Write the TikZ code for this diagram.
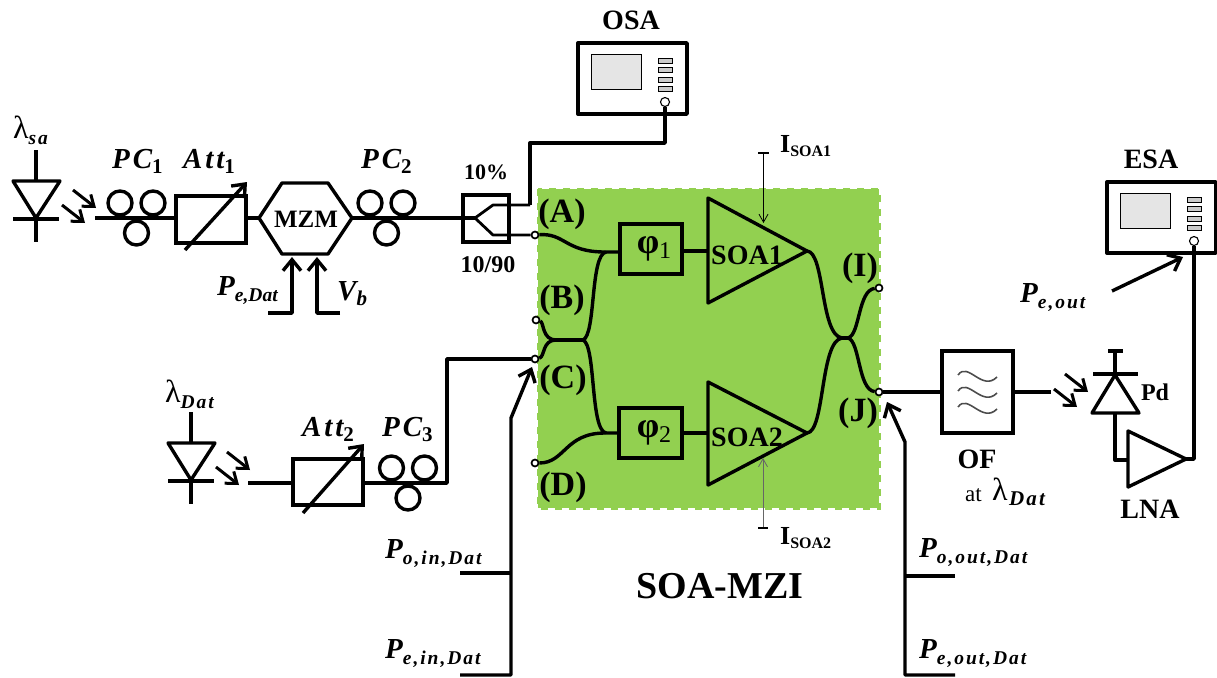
\documentclass[tikz,border=0pt]{standalone}
\usepackage{fontspec}
\setmainfont{Liberation Serif}
\newfontfamily\labfont[LetterSpace=10]{Liberation Serif}
\usetikzlibrary{arrows.meta}

\definecolor{soagreen}{HTML}{92D050}

\newcommand{\fsz}[1]{\fontsize{#1}{#1}\selectfont}
\newcommand{\psub}[1]{\raisebox{-6pt}{\fsz{19.5}#1}}
\newcommand{\nsub}[1]{\raisebox{-5pt}{\fsz{21}\upshape #1}}

\tikzset{
    fib/.style={line width=3.4pt,line join=round},
    thinfib/.style={line width=2.8pt,line join=round},
    device/.style={draw,line width=3.4pt,inner sep=0pt},
    power/.style={line width=3.4pt,line join=round,-{Straight Barb[length=11pt,width=18pt,line width=3.4pt]}},
    ray/.style={line width=3pt,-{Straight Barb[length=10pt,width=15pt]}},
    bias/.style={line width=0.8pt,-{Straight Barb[length=8pt,width=9pt]}},
    port/.style={circle,draw,fill=white,line width=1.7pt,inner sep=0pt,minimum size=7pt},
    lab/.style={anchor=base west,inner sep=0pt,font=\labfont\bfseries\itshape\fsz{29}},
    title/.style={inner sep=0pt,font=\bfseries\fsz{28}},
    pc/.pic={
        \draw[fib] (-16.5,-15) circle (12);
        \draw[fib] (16.5,-15) circle (12);
        \draw[fib] (0,15) circle (12);
    },
    laser/.pic={
        \draw[fib] (0,-68) -- (0,-37);
        \draw[fib] (-23,-37) -- (24,-37) -- (0,0) -- cycle;
        \draw[fib] (-23,1) -- (23,1);
        \draw[fib] (0,1) -- (0,24);
    },
    rays/.pic={
        \draw[ray] (0,0) -- (23,18);
        \draw[ray] (-11,15) -- (12,33);
    },
    analyzer/.pic={
        \draw[line width=3.4pt,line join=round] (0,0) rectangle (109,71);
        \draw[fill=black!10,line width=0.9pt] (13,11) rectangle (63,46);
        \foreach \by in {15,24,34,43} {
            \draw[fill=black!20,line width=0.9pt] (80,\by) rectangle (94,\by+5);
        }
        \node[circle,draw,fill=white,line width=1.1pt,inner sep=0pt,minimum size=9pt] (-port) at (87,59) {};
    },
}

\begin{document}
\begin{tikzpicture}[x=1pt,y=-1pt]
    \useasboundingbox (0,0) rectangle (1217,677);

    % SOA-MZI area
    \draw[fill=soagreen,draw=soagreen,line width=3pt,dash pattern=on 7pt off 7pt] (538,189) rectangle (879,508);

    % Sources
    \pic at (36,218) {laser};
    \pic at (73,190) {rays};
    \pic at (191,480) {laser};
    \pic at (227,452) {rays};

    % First branch
    \coordinate (fibsa) at (95,218);
    \node[device,minimum width=70pt,minimum height=47pt] (att1) at (211,219.5) {};
    \node[device,minimum width=46pt,minimum height=47pt] (split) at (486,218.5) {};
    \coordinate (mzml) at (259,218);
    \coordinate (mzmr) at (352,218);
    \draw[fib] (mzml) -- (282,183) -- (328,183) -- (mzmr) -- (328,254) -- (282,254) -- cycle;
    \node[title,font=\bfseries\fsz{25}] (mzm) at (306,219) {MZM};
    \draw[fib] (fibsa) -- (att1.west |- fibsa);
    \draw[fib] (att1.east |- mzml) -- (mzml);
    \coordinate (splitin) at (475,218);
    \draw[fib] (mzmr) -- (splitin);
    \pic at (136.5,218) {pc};
    \pic at (386.5,218) {pc};
    \draw[power] (185,250) -- (247,182);

    % Bias of the modulator
    \coordinate (pedat) at (268,313);
    \coordinate (vb) at (340,313);
    \draw[power] (pedat) -- (292,313) -- (292,257);
    \draw[power] (vb) -- (317,313) -- (317,257);
    \node[lab] (lpedat) at (217,295) {P\raisebox{-6pt}{\normalfont\fsz{19.5}\bfseries\itshape e,Dat}};
    \node[lab] (lvb) at (337,300) {V\nsub{\itshape b}};

    % Coupler 10/90
    \coordinate (sup) at (493,205);
    \coordinate (sdn) at (493,235);
    \node[port] (pa) at (535,235) {};
    \draw[thinfib] (splitin) -- (sup) -- (530,205);
    \draw[thinfib] (splitin) -- (sdn) -- (pa);

    % OSA
    \pic (osa) at (578,43) {analyzer};
    \node[title] (losa) at (631,20) {OSA};
    \draw[fib] (530,205) -- (530,143) -- (osa-port |- 0,143) -- (osa-port);

    % Second branch
    \coordinate (fibdat) at (248,483);
    \node[device,minimum width=70pt,minimum height=46pt] (att2) at (328,482) {};
    \node[port] (pc) at (535,359) {};
    \draw[fib] (fibdat) -- (att2.west |- fibdat);
    \draw[fib] (att2.east |- fibdat) -- (447,483) -- (447,359) -- (pc);
    \pic at (408,483) {pc};
    \draw[power] (303,513) -- (364,444);

    % Interferometer
    \node[port] (pb) at (536,320) {};
    \node[port] (pd) at (535,463) {};
    \node[port] (pi) at (879,288) {};
    \node[port] (pj) at (879,392) {};
    \node[device,minimum width=62pt,minimum height=50pt] (phi1) at (651,249) {};
    \node[device,minimum width=63pt,minimum height=50pt] (phi2) at (650.5,433) {};
    \node[inner sep=0pt,font=\bfseries\fsz{36}] (lphi1) at (654,249) {φ\raisebox{-5pt}{\fsz{24}\normalfont 1}};
    \node[inner sep=0pt,font=\bfseries\fsz{36}] (lphi2) at (654,433) {φ\raisebox{-5pt}{\fsz{24}\normalfont 2}};
    \coordinate (soa1in) at (708,251);
    \coordinate (soa1out) at (807,251);
    \coordinate (soa2in) at (708,433);
    \coordinate (soa2out) at (807,433);
    \draw[fib] (708,198) -- (soa1out) -- (708,303) -- cycle;
    \draw[fib] (708,382) -- (soa2out) -- (708,485) -- cycle;
    \draw[fib] (phi1.east |- soa1in) -- (soa1in);
    \draw[fib] (phi2.east |- soa2in) -- (soa2in);
    \node[title] (lsoa1) at (747,255) {SOA1};
    \node[title] (lsoa2) at (747,437) {SOA2};

    % Couplers
    \coordinate (cl1) at (556,340);
    \coordinate (cl2) at (583,340);
    \coordinate (cr1) at (842,338);
    \coordinate (cr2) at (848,338);
    \draw[fib] (pa) .. controls (565,233) and (565,252) .. (605,252) -- (phi1.west |- 0,252);
    \draw[fib] (pd) .. controls (565,463) and (565,433) .. (605,433) -- (phi2.west |- soa2in);
    \draw[fib] (pb) .. controls (544,322) and (542,340) .. (cl1);
    \draw[fib] (pc) .. controls (545,357) and (542,340) .. (cl1);
    \draw[fib] (cl1) -- (cl2);
    \draw[fib] (cl2) .. controls (596,335) and (590,255) .. (606,252);
    \draw[fib] (cl2) .. controls (596,345) and (590,430) .. (606,433);
    \draw[fib] (soa1out) .. controls (825,252) and (820,335) .. (cr1);
    \draw[fib] (soa2out) .. controls (825,432) and (820,341) .. (cr1);
    \draw[fib] (cr1) -- (cr2);
    \draw[fib] (cr2) .. controls (860,335) and (858,290) .. (pi);
    \draw[fib] (cr2) .. controls (860,341) and (858,390) .. (pj);

    % Currents
    \coordinate (isoa1) at (763.5,153);
    \coordinate (isoa2) at (763,528);
    \draw[bias] (isoa1) -- (763.5,223);
    \draw[bias,black!60] (isoa2) -- (763,458);
    \draw[line width=2pt] (758,153) -- (769,153);
    \draw[line width=2pt] (758,528) -- (768,528);
    \node[anchor=base west,inner sep=0pt,font=\bfseries\fsz{26}] (lisoa1) at (780,152) {I\raisebox{-4pt}{\fsz{16}SOA1}};
    \node[anchor=base west,inner sep=0pt,font=\bfseries\fsz{26}] (lisoa2) at (780,544) {I\raisebox{-4pt}{\fsz{16}SOA2}};

    % Port names
    \foreach \pname/\px/\py in {A/562/214,B/562/300,C/563/380,D/563/487,I/860/268,J/858/413} {
        \node[inner sep=0pt,font=\bfseries\fsz{34}] (port\pname) at (\px,\py) {(\pname)};
    }
    \node[title,font=\bfseries\fsz{38}] (lmzi) at (720,586) {SOA-MZI};

    % Power probes
    \coordinate (poin) at (460,573);
    \coordinate (pein) at (460,675);
    \coordinate (poout) at (955,576);
    \coordinate (peout) at (955,675);
    \draw[fib] (poin) -- (511,573);
    \draw[power] (pein) -- (511,675) -- (511,418) -- (532,367);
    \draw[fib] (poout) -- (905,576);
    \draw[power] (peout) -- (905,675) -- (905,442) -- (887,402);

    % Output branch
    \node[device,minimum width=71pt,minimum height=82pt] (of) at (977.5,392) {};
    \coordinate (ofout) at (1051,392);
    \draw[fib] (pj) -- (of);
    \draw[fib] (of) -- (ofout);
    \foreach \wy in {375,391,407} {
        \draw[line width=1.6pt,black!70] (958,\wy) .. controls (968,\wy-14) and (982,\wy+17) .. (997,\wy+2);
    }
    \pic at (1065,374) {rays};

    % Photodiode
    \coordinate (pdtop) at (1115,351);
    \coordinate (pdtip) at (1115,375);
    \draw[fib] (1108,351) -- (1123,351);
    \draw[fib] (pdtop) -- (pdtip);
    \draw[fib] (1093,374) -- (1138,374);
    \draw[fib] (pdtip) -- (1139,413) -- (1092,413) -- cycle;
    \node[title,font=\bfseries\fsz{24}] (lpd) at (1155,392) {Pd};

    % LNA
    \coordinate (lnain) at (1128,460);
    \coordinate (lnaout) at (1186,459);
    \draw[fib] (1128,431) -- (lnaout) -- (1128,487) -- cycle;
    \draw[fib] (1115,413) -- (1115,460) -- (lnain);

    % ESA
    \pic (esa) at (1107,182) {analyzer};
    \node[title] (lesa) at (1151,159) {ESA};
    \draw[fib] (lnaout) -- (esa-port |- lnaout) -- (esa-port);
    \draw[power] (1112,291) -- (1183,257);

    % Labels
    \node[title] (lof) at (977,459) {OF};
    \node[anchor=base west,inner sep=0pt,font=\fsz{23}] (lat) at (965,501) {at};
    \node[anchor=base west,inner sep=0pt,font=\fsz{32}] (llat) at (992,500) {λ};
    \node[lab,font=\labfont\bfseries\itshape\fsz{21}] (ldat) at (1009,505) {Dat};
    \node[title] (llna) at (1150,509) {LNA};
    \node[title,font=\bfseries\fsz{22}] (lten) at (486,172) {10\%};
    \node[title,font=\bfseries\fsz{24}] (lsplit) at (488,265) {10/90};
    \node[lab,font=\normalfont\fsz{32}] (llsa) at (13,138) {λ\psub{\labfont\bfseries\itshape sa}};
    \node[lab,font=\normalfont\fsz{32}] (lldat) at (165,402) {λ\psub{\labfont\bfseries\itshape Dat}};
    \foreach \lname/\ltxt/\lsub/\lx/\ly in {a/PC/1/112/168,b/Att/1/183/168,c/PC/2/361/168,d/Att/2/302/436,e/PC/3/382/436} {
        \node[lab] (lab\lname) at (\lx,\ly) {\ltxt\nsub{\lsub}};
    }
    \foreach \lname/\lsub/\lx/\ly in {f/{o,in,Dat}/385/558,g/{e,in,Dat}/385/658,h/{o,out,Dat}/919/557,k/{e,out,Dat}/919/658,m/{e,out}/1020/302} {
        \node[lab] (lab\lname) at (\lx,\ly) {P\psub{\lsub}};
    }

\end{tikzpicture}
\end{document}
